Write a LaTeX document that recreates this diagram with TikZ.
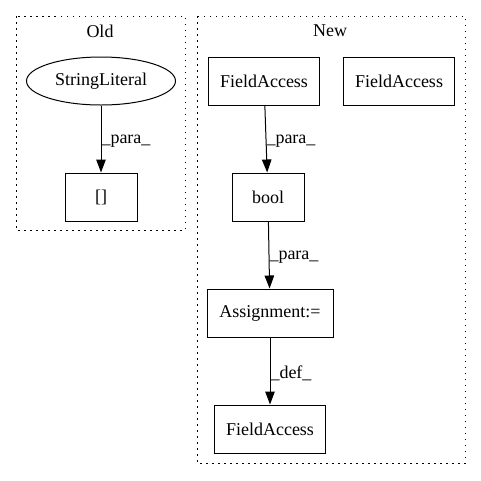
\documentclass[tikz,border=0pt]{standalone}
\usepackage{fontspec}
\setmainfont{Liberation Serif}
\usetikzlibrary{arrows.meta,shapes.geometric}

\begin{document}
\begin{tikzpicture}[x=1pt, y=-1pt, line width=1pt]
		\tikzstyle{every node}=[font=\fontsize{18}{21}\selectfont]
		\tikzstyle{op}=[draw,rectangle,minimum height=48pt,inner sep=0pt]
		\tikzstyle{lit}=[draw,ellipse,minimum width=149pt,minimum height=48pt,inner sep=0pt]
		\tikzstyle{cluster}=[draw,dash pattern=on 1.5pt off 4.5pt]
		\tikzstyle{flow}=[-{Triangle[length=13pt,width=9.5pt]}]
		\tikzstyle{elabel}=[anchor=west,inner sep=0pt,pos=.5,yshift=-2pt]
    \def\fa{111pt}
		\useasboundingbox (0,0) rectangle (481,480);

		% Old
		\draw[cluster] (16,16) rectangle (185,230);
		\node (oldtitle) at (100,31) {Old};
		\node[lit] (strlit) at (101,81) {StringLiteral};
		\node[op,minimum width=72pt] (idx) at (101,197) {[]};
		\draw[flow] (strlit) -- (idx) node[elabel] {\_para\_};

		% New
		\draw[cluster] (197,16) rectangle (465,463);
		\node (newtitle) at (330,31) {New};
		\node[op,minimum width=\fa] (fa1) at (264,81) {FieldAccess};
		\node[op,minimum width=\fa] (fa2) at (399,81) {FieldAccess};
		\node[op,minimum width=72pt] (bool) at (268,197) {bool};
		\node[op,minimum width=126pt] (assign) at (270,313) {Assignment:=};
		\node[op,minimum width=\fa] (fa3) at (270,429) {FieldAccess};
		\draw[flow] (fa1) -- (bool) node[elabel] {\_para\_};
		\draw[flow] (bool) -- (assign) node[elabel] {\_para\_};
		\draw[flow] (assign) -- (fa3) node[elabel] {\_def\_};
\end{tikzpicture}
\end{document}
